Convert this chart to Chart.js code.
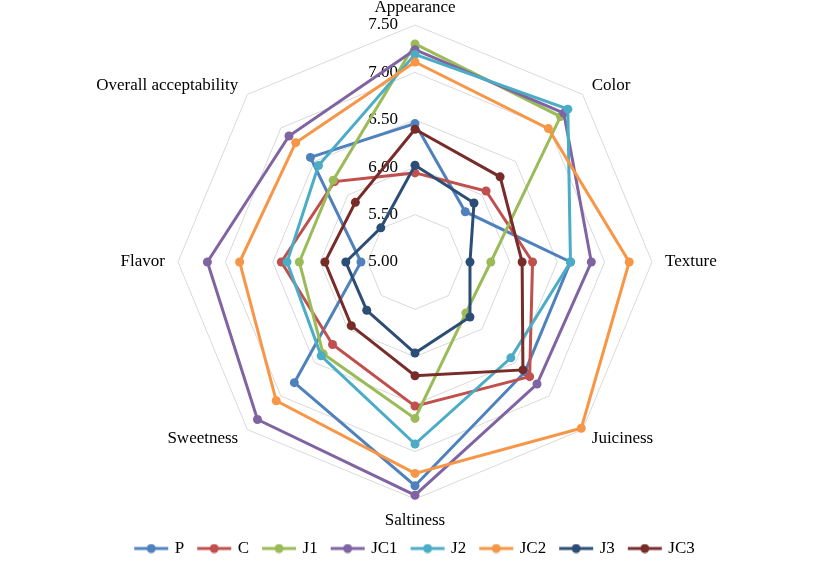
<!DOCTYPE html>
<html>
<head>
<meta charset="utf-8">
<script src="https://cdn.jsdelivr.net/npm/chart.js@4.4.1/dist/chart.umd.min.js"></script>
<style>
  html, body { margin: 0; padding: 0; background: #fff; }
</style>
</head>
<body>
<canvas id="myRadarChart" width="827" height="570"></canvas>
<script>
var attributes = ["Appearance", "Color", "Texture", "Juiciness", "Saltiness", "Sweetness", "Flavor", "Overall acceptability"];
var seriesNames = ["P", "C", "J1", "JC1", "J2", "JC2", "J3", "JC3"];

var P   = [6.46, 5.75, 6.64, 6.64, 7.36, 6.80, 5.57, 6.56];
var C   = [5.94, 6.06, 6.24, 6.71, 6.52, 6.23, 6.41, 6.20];
var J1  = [7.30, 7.17, 5.80, 5.76, 6.65, 6.37, 6.22, 6.22];
var JC1 = [7.24, 7.22, 6.86, 6.82, 7.46, 7.35, 7.19, 6.88];
var J2  = [7.19, 7.28, 6.64, 6.43, 6.92, 6.40, 6.35, 6.44];
var JC2 = [7.11, 6.99, 7.26, 7.48, 7.23, 7.07, 6.85, 6.78];
var J3  = [6.02, 5.88, 5.58, 5.82, 5.96, 5.72, 5.73, 5.51];
var JC3 = [6.40, 6.27, 6.13, 6.61, 6.20, 5.95, 5.95, 5.89];

var tickValues = [5.00, 5.50, 6.00, 6.50, 7.00, 7.50];
var tickLabels = ["5.00", "5.50", "6.00", "6.50", "7.00", "7.50"];

var allSeries = [P, C, J1, JC1, J2, JC2, J3, JC3];
var seriesColors = ["#4F81BD", "#C0504D", "#9BBB59", "#8064A2", "#4BACC6", "#F79646", "#2C4D75", "#772C2A"];

var serif = '"Liberation Serif", "Times New Roman", serif';
Chart.defaults.font.family = serif;
Chart.defaults.color = "#000";

// little "line with a dot" marker like the excel legend
function legendMarker(color) {
  var c = document.createElement("canvas");
  c.width = 36;
  c.height = 10;
  var g = c.getContext("2d");
  g.strokeStyle = color;
  g.lineWidth = 3;
  g.beginPath();
  g.moveTo(1, 5);
  g.lineTo(35, 5);
  g.stroke();
  g.fillStyle = color;
  g.beginPath();
  g.arc(18, 5, 4.5, 0, Math.PI * 2);
  g.fill();
  return c;
}

var datasets = allSeries.map(function (values, i) {
  return {
    label: seriesNames[i],
    data: values,
    borderColor: seriesColors[i],
    backgroundColor: seriesColors[i],
    pointBackgroundColor: seriesColors[i],
    pointBorderWidth: 0,
    pointRadius: 4.5,
    borderWidth: 3,
    fill: false,
    order: allSeries.length - i
  };
});

// tick labels left of the vertical axis and category labels round the web
var excelLabels = {
  id: "excelLabels",
  beforeDatasetsDraw: function (chart) {
    var scale = chart.scales.r;
    var ctx = chart.ctx;
    ctx.save();
    ctx.font = "17px " + serif;
    ctx.fillStyle = "#000";
    ctx.textAlign = "right";
    ctx.textBaseline = "middle";
    tickValues.forEach(function (v, i) {
      var y = scale.yCenter - scale.getDistanceFromCenterForValue(v);
      ctx.fillText(tickLabels[i], scale.xCenter - 17, y);
    });

    attributes.forEach(function (name, i) {
      var pos = scale.getPointPosition(i, scale.drawingArea + 13);
      var deg = Math.round(scale.getIndexAngle(i) * 180 / Math.PI);
      if (deg === 0) {
        ctx.textAlign = "center";
        ctx.textBaseline = "alphabetic";
        pos.y += 0;
      } else if (deg === 180) {
        ctx.textAlign = "center";
        ctx.textBaseline = "top";
      } else if (deg < 180) {
        ctx.textAlign = "left";
        ctx.textBaseline = "middle";
      } else {
        ctx.textAlign = "right";
        ctx.textBaseline = "middle";
      }
      ctx.fillText(name, pos.x, pos.y);
    });
    ctx.restore();
  }
};

new Chart("myRadarChart", {
  type: "radar",
  data: {
    labels: attributes,
    datasets: datasets
  },
  options: {
    responsive: false,
    animation: false,
    devicePixelRatio: 1,
    elements: { line: { tension: 0 } },
    layout: { padding: { top: 25, left: 4, right: 0, bottom: 3 } },
    scales: {
      r: {
        min: 5,
        max: 7.5,
        ticks: { stepSize: 0.5, display: false },
        grid: { color: "#D9D9D9", lineWidth: 1 },
        angleLines: { display: false },
        pointLabels: { display: false }
      }
    },
    plugins: {
      tooltip: { enabled: false },
      legend: {
        display: true,
        position: "bottom",
        title: { display: true, text: "", padding: 0, font: { size: 25, lineHeight: 1 } },
        labels: {
          usePointStyle: true,
          pointStyleWidth: 30,
          padding: 15,
          color: "#000",
          font: { size: 17, family: serif },
          generateLabels: function (chart) {
            return chart.data.datasets.map(function (ds, i) {
              return {
                text: ds.label,
                pointStyle: legendMarker(ds.borderColor),
                fillStyle: ds.borderColor,
                strokeStyle: ds.borderColor,
                lineWidth: 0,
                hidden: false,
                datasetIndex: i
              };
            });
          }
        }
      }
    }
  },
  plugins: [excelLabels]
});
</script>
</body>
</html>
